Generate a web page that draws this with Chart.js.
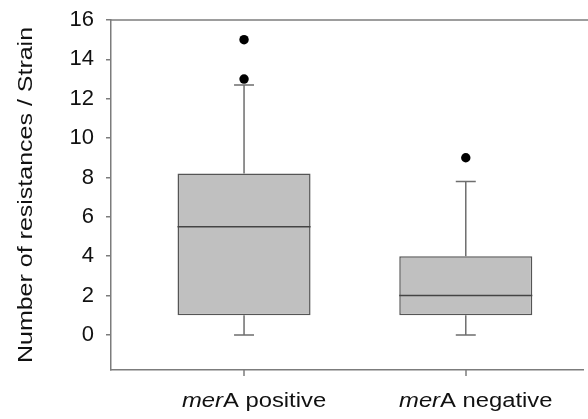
<!DOCTYPE html>
<html>
<head>
<meta charset="utf-8">
<script src="https://cdn.jsdelivr.net/npm/chart.js@4"></script>
<style>
  html, body { margin: 0; padding: 0; background: #fff; }
  #box-chart { display: block; }
</style>
</head>
<body>
<canvas id="box-chart" width="588" height="419"></canvas>
<script>
// box plot values
const categoryPos = [1, 2];
const labelItalic = ['mer', 'mer'];
const labelRest = ['A positive', 'A negative'];
const q1 = [1, 1];
const median = [5.5, 2];
const q3 = [8.2, 4];
const whiskerLow = [0, 0];
const whiskerHigh = [12.7, 7.8];
const outliers = [[15, 13], [9]];
const yTicks = [0, 2, 4, 6, 8, 10, 12, 14, 16];

const axisGrey = '#7c7c7c';
const textColor = '#111';
const stretch = 1.19; // text in the source is drawn a bit wide

Chart.defaults.font.family = 'Liberation Sans, Arial, sans-serif';
Chart.defaults.color = textColor;

const boxData = categoryPos.map((x, i) => ({ x: x, y: [q1[i], q3[i]] }));
const outlierData = [];
outliers.forEach((vals, i) => {
  vals.forEach(v => outlierData.push({ x: categoryPos[i], y: v }));
});

// whiskers, medians, frame top, x ticks/labels and y title
const boxExtras = {
  id: 'boxExtras',
  afterDatasetsDraw(chart) {
    const { ctx, scales } = chart;
    const y = scales.y;
    const bars = chart.getDatasetMeta(0).data;
    ctx.save();
    bars.forEach((bar, i) => {
      const cx = bar.x;
      const half = bar.width / 2;
      const cap = 10;

      // whiskers
      ctx.strokeStyle = '#6e6e6e';
      ctx.lineWidth = 1.5;
      ctx.beginPath();
      ctx.moveTo(cx, y.getPixelForValue(q3[i]));
      ctx.lineTo(cx, y.getPixelForValue(whiskerHigh[i]));
      ctx.moveTo(cx - cap, y.getPixelForValue(whiskerHigh[i]));
      ctx.lineTo(cx + cap, y.getPixelForValue(whiskerHigh[i]));
      ctx.moveTo(cx, y.getPixelForValue(q1[i]));
      ctx.lineTo(cx, y.getPixelForValue(whiskerLow[i]));
      ctx.moveTo(cx - cap, y.getPixelForValue(whiskerLow[i]));
      ctx.lineTo(cx + cap, y.getPixelForValue(whiskerLow[i]));
      ctx.stroke();

      // median
      ctx.strokeStyle = '#444';
      ctx.beginPath();
      ctx.moveTo(cx - half, y.getPixelForValue(median[i]));
      ctx.lineTo(cx + half, y.getPixelForValue(median[i]));
      ctx.stroke();
    });
    ctx.restore();
  },
  afterDraw(chart) {
    const { ctx, chartArea, scales } = chart;
    const x = scales.x;
    ctx.save();

    // top frame line + x tick marks
    ctx.strokeStyle = axisGrey;
    ctx.lineWidth = 1.5;
    ctx.beginPath();
    ctx.moveTo(chartArea.left, chartArea.top);
    ctx.lineTo(chart.width, chartArea.top);
    ctx.stroke();
    categoryPos.forEach(v => {
      const px = Math.round(x.getPixelForValue(v));
      ctx.beginPath();
      ctx.moveTo(px, chartArea.bottom);
      ctx.lineTo(px, chartArea.bottom + 6);
      ctx.stroke();
    });

    // x labels with italic gene name
    ctx.fillStyle = textColor;
    ctx.textBaseline = 'alphabetic';
    ctx.textAlign = 'left';
    const italicFont = 'italic 20px "Liberation Sans", Arial, sans-serif';
    const plainFont = '20px "Liberation Sans", Arial, sans-serif';
    categoryPos.forEach((v, i) => {
      ctx.font = italicFont;
      const w1 = ctx.measureText(labelItalic[i]).width;
      ctx.font = plainFont;
      const w2 = ctx.measureText(labelRest[i]).width;
      const total = (w1 + w2) * stretch;
      ctx.save();
      ctx.translate(x.getPixelForValue(v) + 10 - total / 2, chartArea.bottom + 37);
      ctx.scale(stretch, 1);
      ctx.font = italicFont;
      ctx.fillText(labelItalic[i], 0, 0);
      ctx.font = plainFont;
      ctx.fillText(labelRest[i], w1, 0);
      ctx.restore();
    });

    // y axis title
    ctx.save();
    ctx.translate(32, (chartArea.top + chartArea.bottom) / 2);
    ctx.rotate(-Math.PI / 2);
    ctx.scale(stretch, 1);
    ctx.font = '21px "Liberation Sans", Arial, sans-serif';
    ctx.textAlign = 'center';
    ctx.fillText('Number of resistances / Strain', 0, 0);
    ctx.restore();

    ctx.restore();
  }
};

const config = {
  type: 'bar',
  data: {
    datasets: [
      {
        type: 'bar',
        data: boxData,
        backgroundColor: '#c0c0c0',
        borderColor: '#555',
        borderWidth: 1.5,
        borderSkipped: false,
        barPercentage: 0.6,
        categoryPercentage: 1,
      },
      {
        type: 'scatter',
        data: outlierData,
        pointRadius: 4.7,
        pointBackgroundColor: '#000',
        pointBorderWidth: 0,
        showLine: false,
      },
    ],
  },
  options: {
    responsive: false,
    animation: false,
    events: [],
    layout: {
      padding: { top: 20, right: 0, left: 0, bottom: 0 },
    },
    plugins: {
      legend: { display: false },
      tooltip: { enabled: false },
    },
    scales: {
      x: {
        type: 'linear',
        position: 'bottom',
        min: 0.4,
        max: 2.53,
        offset: false,
        afterBuildTicks: scale => {
          scale.ticks = categoryPos.map(v => ({ value: v }));
        },
        afterFit: scale => {
          scale.height = 49;
          scale.paddingLeft = 0;
          scale.paddingRight = 0;
        },
        ticks: { display: false },
        grid: { display: false },
        border: { display: true, color: axisGrey, width: 1.5 },
      },
      y: {
        min: -1.78,
        max: 16,
        afterBuildTicks: scale => {
          scale.ticks = yTicks.map(v => ({ value: v }));
        },
        afterFit: scale => {
          scale.width = 111;
          scale.paddingTop = 0;
          scale.paddingBottom = 0;
        },
        ticks: {
          padding: 12,
          font: { size: 22 },
          color: textColor,
        },
        grid: {
          drawOnChartArea: false,
          drawTicks: true,
          tickLength: 5,
          color: axisGrey,
          lineWidth: 1.5,
        },
        border: { display: true, color: axisGrey, width: 1.5 },
      },
    },
  },
  plugins: [boxExtras],
};

const boxChart = new Chart(document.getElementById('box-chart'), config);
</script>
</body>
</html>
